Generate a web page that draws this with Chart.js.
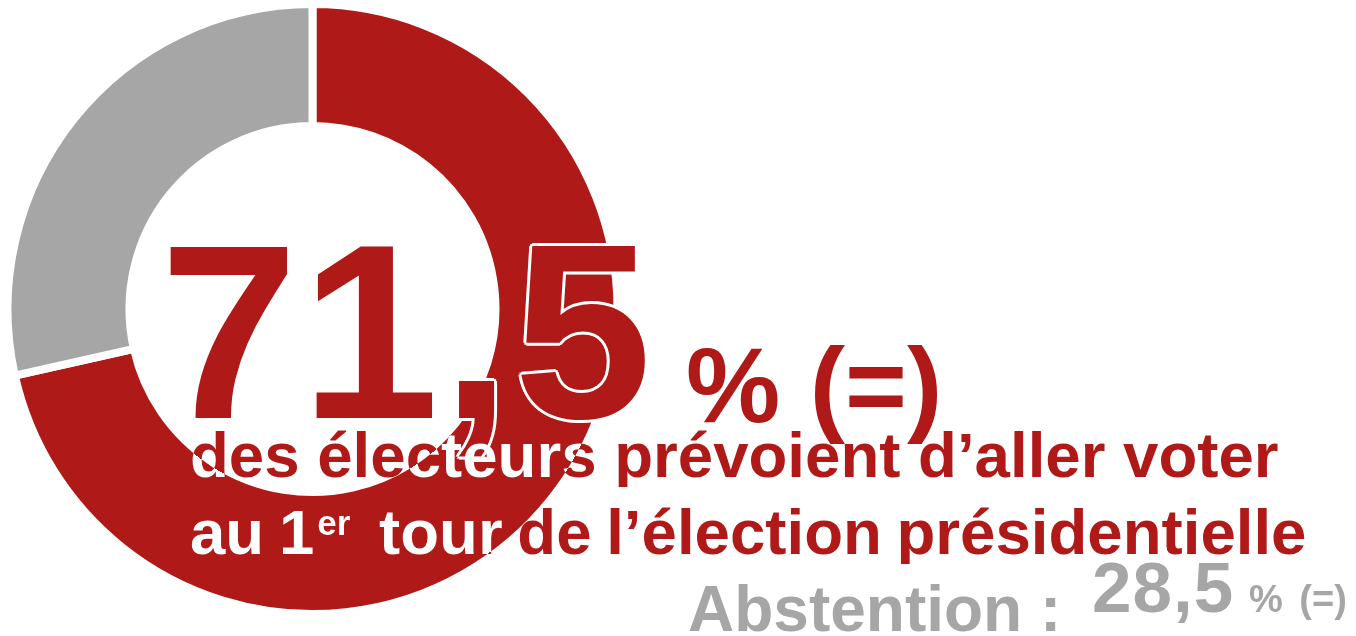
<!DOCTYPE html>
<html lang="fr">
<head>
<meta charset="utf-8">
<script src="https://cdn.jsdelivr.net/npm/chart.js@4"></script>
<style>
  html, body { margin: 0; padding: 0; background: #fff; width: 1356px; height: 636px; overflow: hidden; }
  body { position: relative; font-family: "Liberation Sans", Arial, sans-serif; font-weight: bold; }
  #wrap { position: absolute; left: 0; top: 0; width: 625px; height: 618px; }
  .t { position: absolute; line-height: 1; white-space: nowrap; margin: 0; }
  #big { left: 160px; top: 208px; font-size: 248px; letter-spacing: 3px; color: #AF1917;
    text-shadow: 3px 0 0 #fff, -3px 0 0 #fff, 0 3px 0 #fff, 0 -3px 0 #fff,
                 2px 2px 0 #fff, -2px 2px 0 #fff, 2px -2px 0 #fff, -2px -2px 0 #fff; }
  #pct { left: 686px; top: 332px; font-size: 106px; color: #AF1917; }
  .clip { font-size: 63.6px; color: transparent; -webkit-background-clip: text; background-clip: text;
    background-size: 1356px 636px; background-repeat: no-repeat; }
  #l2 { left: 190px; top: 423px; background-position: -190px -423px; }
  #l3 { left: 190px; top: 500px; background-position: -190px -500px; word-spacing: -3px; }
  .sup { font-size: 35px; vertical-align: 19px; line-height: 0; margin-left: 3px; margin-right: 14px; word-spacing: 0; }
  #abs { left: 688px; top: 577px; font-size: 64px; color: #A6A6A6; }
  #absv { left: 1092px; top: 552px; font-size: 71px; letter-spacing: 1px; color: #A6A6A6; }
  #absp { left: 1249px; top: 580px; font-size: 38px; word-spacing: 6px; color: #A6A6A6; }
</style>
</head>
<body>
<div id="wrap"><canvas id="c"></canvas></div>
<div class="t" id="big"></div>
<div class="t" id="pct">% (=)</div>
<div class="t clip" id="l2">des électeurs prévoient d’aller voter</div>
<div class="t clip" id="l3">au 1<span class="sup">er</span> tour de l’élection présidentielle</div>
<div class="t" id="abs">Abstention :</div>
<div class="t" id="absv"></div>
<div class="t" id="absp">% (=)</div>
<script>
// Data
const categories = ['Votants', 'Abstention'];
const values = [71.5, 28.5];
const colors = ['#AF1917', '#A6A6A6'];

const fmt = v => v.toFixed(1).replace('.', ',');
document.getElementById('big').textContent = fmt(values[0]);
document.getElementById('absv').textContent = fmt(values[1]);

// Ring geometry (used for text colour switching)
const RING_CX = 312.5, RING_CY = 309, RING_R = 305, BORDER = 8;
const INNER = 183;
const grad = `radial-gradient(circle at ${RING_CX}px ${RING_CY}px, ${colors[0]} 0px, ${colors[0]} ${INNER + BORDER/2}px, #ffffff ${INNER + BORDER/2}px, #ffffff ${RING_R - BORDER/2}px, ${colors[0]} ${RING_R - BORDER/2}px)`;
document.querySelectorAll('.clip').forEach(el => { el.style.backgroundImage = grad; });

new Chart(document.getElementById('c'), {
  type: 'doughnut',
  data: {
    labels: categories,
    datasets: [{
      data: values,
      backgroundColor: colors,
      borderColor: '#ffffff',
      borderWidth: BORDER,
      hoverOffset: 0
    }]
  },
  options: {
    responsive: true,
    maintainAspectRatio: false,
    animation: false,
    radius: RING_R,
    cutout: (INNER / RING_R * 100) + '%',
    rotation: 0,
    layout: { padding: 0 },
    plugins: { legend: { display: false }, tooltip: { enabled: false } },
    events: []
  }
});
</script>
</body>
</html>
